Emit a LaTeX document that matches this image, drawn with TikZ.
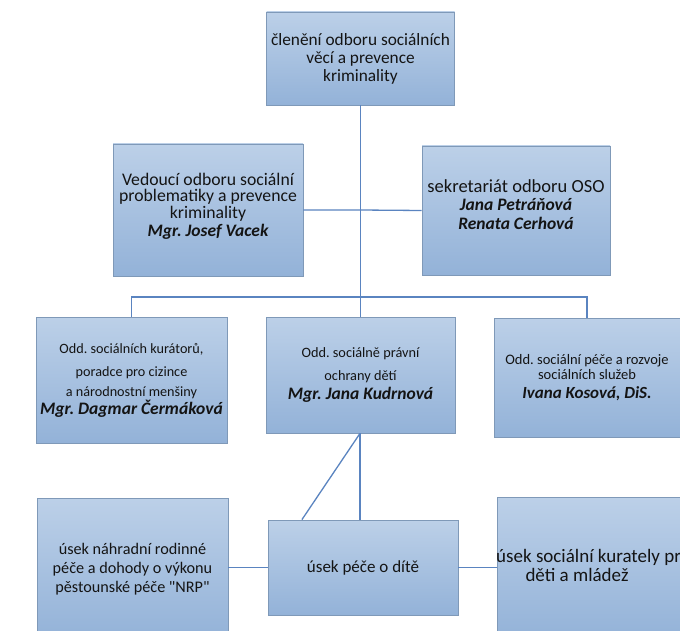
\documentclass[tikz,border=0pt]{standalone}
\usepackage{fontspec}
\setmainfont{Carlito}
\frenchspacing
\usetikzlibrary{calc}
\definecolor{boxtop}{HTML}{BCD0E8}
\definecolor{boxbot}{HTML}{93B2D8}
\definecolor{boxline}{HTML}{7F99B8}
\definecolor{conn}{HTML}{5A84C0}
\tikzset{
  box/.style={rectangle, draw=boxline, line width=0.8pt, top color=boxtop, bottom color=boxbot, align=center, inner sep=0pt, text=black!92},
  plain/.style={align=center, inner sep=0pt, text=black!92},
  conline/.style={draw=conn, line width=1.3pt},
}
\newcommand{\nm}[1]{{\fontsize{17.5}{18}\selectfont\bfseries\itshape #1}}
\begin{document}
\begin{tikzpicture}[x=1pt,y=-1pt]
\useasboundingbox (0,0) rectangle (680,631);
\clip (0,0) rectangle (680,631);
\fill[white] (0,0) rectangle (680,631);
% nodes
\node[box, font=\fontsize{17.3}{18}\selectfont, minimum width=188pt, minimum height=93pt] (top) at (360.5,58.5) {členění odboru sociálních\\věcí a prevence\\kriminality};
\node[box, font=\fontsize{17.7}{16.8}\selectfont, minimum width=190pt, minimum height=132pt] (ved) at (208,210) {Vedoucí odboru sociální\\problematiky a prevence\\kriminality\\[1pt]\nm{Mgr. Josef Vacek}\\[-6pt]\mbox{}};
\node[box, font=\fontsize{18.5}{18.5}\selectfont, minimum width=188pt, minimum height=129pt] (sek) at (516,210.5) {sekretariát odboru OSO\\\nm{Jana Petráňová}\\\nm{Renata Cerhová}\\[-6pt]\mbox{}};
\node[box, font=\fontsize{14.2}{23}\selectfont, minimum width=191pt, minimum height=126pt] (k1) at (131.5,380) {Odd. sociálních kurátorů,\\poradce pro cizince\\[-3pt]a národnostní menšiny\\[-5pt]\nm{Mgr. Dagmar Čermáková}};
\node[box, font=\fontsize{14.3}{23}\selectfont, minimum width=189pt, minimum height=116pt] (k2) at (360.5,375) {Odd. sociálně právní\\ochrany dětí\\[-4pt]\nm{Mgr. Jana Kudrnová}};
\node[box, font=\fontsize{14.5}{15.5}\selectfont, minimum width=186pt, minimum height=119pt] (k3) at (587,377.5) {Odd. sociální péče a rozvoje\\sociálních služeb\\[3pt]{\fontsize{17}{18}\selectfont\bfseries\itshape Ivana Kosová, DiS.}};
\node[box, font=\fontsize{16.2}{19}\selectfont, minimum width=191pt, minimum height=142pt] (b1) at (132.5,569) {úsek náhradní rodinné\\péče a dohody o výkonu\\pěstounské péče \textquotedbl NRP\textquotedbl};
\node[box, font=\fontsize{17}{19}\selectfont, minimum width=190pt, minimum height=95pt] (b2) at (363,567.5) {úsek péče o dítě};
\node[box, minimum width=206pt, minimum height=143pt] (b3) at (600,568.5) {};
\node[plain, font=\fontsize{19}{19}\selectfont, anchor=base west] (b3a) at (496,562) {úsek sociální kurately pro};
\node[plain, font=\fontsize{19}{19}\selectfont, anchor=base] (b3b) at (577,581) {děti a mládež};
% connectors
\coordinate (mid) at (360,210);
\coordinate (bus) at (360,297);
\coordinate (k2s) at ($(k2.south)+(-0.5,0)$);
\draw[conline] (top.south) -- (k2.north);
\draw[conline] (ved.east) -- (mid) -- (sek.west);
\draw[conline] (k1.north) -- (k1.north |- bus) -- (k3.north |- bus) -- (k3.north);
\draw[conline] (k2s) -- (k2s |- b2.north);
\draw[conline] (k2s) -- ($(b2.north west)!0.18!(b2.north east)$);
\draw[conline] (b1.east |- b2.west) -- (b2.west);
\draw[conline] (b2.east) -- (b2.east -| b3.west);
\end{tikzpicture}
\end{document}
